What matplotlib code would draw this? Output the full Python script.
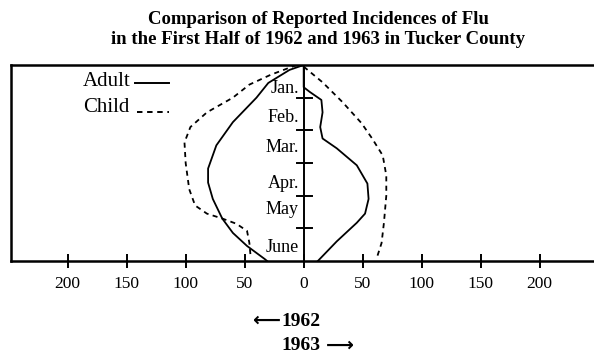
import matplotlib.pyplot as plt
import numpy as np

plt.rcParams['font.family'] = ['Liberation Serif', 'DejaVu Serif']

# months run top to bottom: 0 = start of Jan, 6 = end of June
months = ['Jan.', 'Feb.', 'Mar.', 'Apr.', 'May', 'June']
month_label_pos = [0.72, 1.6, 2.53, 3.62, 4.43, 5.58]

# 1962 (plotted to the left), position within the half year
adult_1962_t = [0.0, 0.15, 0.55, 1.0, 1.75, 2.46, 3.17, 3.6, 4.1, 4.7, 5.14, 5.54, 5.94, 6.0]
adult_1962 = [0, 12, 30, 40, 60, 74, 81, 81, 77, 69, 60, 48, 33, 31]

child_1962_t = [0.0, 0.3, 0.6, 1.0, 1.45, 1.9, 2.37, 3.0, 3.8, 4.3, 4.55, 4.7, 4.86, 5.08, 5.45, 5.85]
child_1962 = [6, 28, 46, 60, 82, 96, 101, 100, 97, 92, 82, 69, 57, 48, 46, 45]

# 1963 (plotted to the right)
adult_1963_t = [0.0, 0.68, 0.82, 1.07, 1.45, 1.9, 2.25, 2.55, 3.07, 3.63, 4.1, 4.55, 4.83, 5.4, 6.0]
adult_1963 = [0, 0, 5, 15, 16, 14, 16, 28, 45, 54, 55, 52, 45, 28, 12]

child_1963_t = [0.05, 0.53, 1.14, 1.78, 2.25, 2.77, 3.38, 4.0, 4.83, 5.45, 5.9]
child_1963 = [0, 16, 33, 49, 58, 67, 70, 70, 68, 66, 62]

xticks = [-200, -150, -100, -50, 0, 50, 100, 150, 200]

fig = plt.figure(figsize=(5.94, 3.55), dpi=100)
ax = fig.add_axes([11 / 594, 1 - 261 / 355, 1 - 11 / 594, 196 / 355])

dash = (0, (2.8, 2.4))
ax.plot(-np.array(adult_1962), adult_1962_t, color='black', lw=1.3)
ax.plot(-np.array(child_1962), child_1962_t, color='black', lw=1.3, ls=dash)
ax.plot(adult_1963, adult_1963_t, color='black', lw=1.3)
ax.plot(child_1963, child_1963_t, color='black', lw=1.3, ls=dash)

# centre axis with month boundary ticks
ax.plot([0, 0], [0, 6], color='black', lw=1.4)
for b in range(1, 6):
    ax.plot([-6, 7], [b, b], color='black', lw=1.4)
for name, y in zip(months, month_label_pos):
    ax.text(-4, y, name, ha='right', va='center', fontsize=13)

ax.set_xlim(-248, 246)
ax.set_ylim(6, 0)
ax.set_xticks(xticks)
ax.set_xticklabels([str(abs(v)) for v in xticks], fontsize=12.5)
ax.set_yticks([])
ax.tick_params(axis='x', direction='inout', length=10, width=1.4, pad=6)
for side in ['left', 'top', 'bottom']:
    ax.spines[side].set_linewidth(1.8)
ax.spines['right'].set_visible(False)

# legend drawn by hand
ax.text(-187, 0.5, 'Adult', ha='left', va='center', fontsize=15)
ax.plot([-143, -114], [0.55, 0.55], color='black', lw=1.4)
ax.text(-187, 1.3, 'Child', ha='left', va='center', fontsize=15)
ax.plot([-141, -114], [1.45, 1.45], color='black', lw=1.4, ls=dash)

fig.text(318 / 594, 1 - 19 / 355, 'Comparison of Reported Incidences of Flu',
         ha='center', va='center', fontsize=13.5, weight='bold')
fig.text(318 / 594, 1 - 40 / 355, 'in the First Half of 1962 and 1963 in Tucker County',
         ha='center', va='center', fontsize=13.5, weight='bold')

# year direction markers below the axis
fig.text(281 / 594, 1 - 321 / 355, '1962', ha='left', va='center',
         fontsize=14, weight='bold')
fig.text(281 / 594, 1 - 346 / 355, '1963', ha='left', va='center',
         fontsize=14, weight='bold')
fig.text(280 / 594, 1 - 320 / 355, '\u27f5', ha='right', va='center',
         fontsize=14, weight='bold', family='DejaVu Sans')
fig.text(326 / 594, 1 - 345 / 355, '\u27f6', ha='left', va='center',
         fontsize=14, weight='bold', family='DejaVu Sans')

fig.savefig('out.png', dpi=100)
